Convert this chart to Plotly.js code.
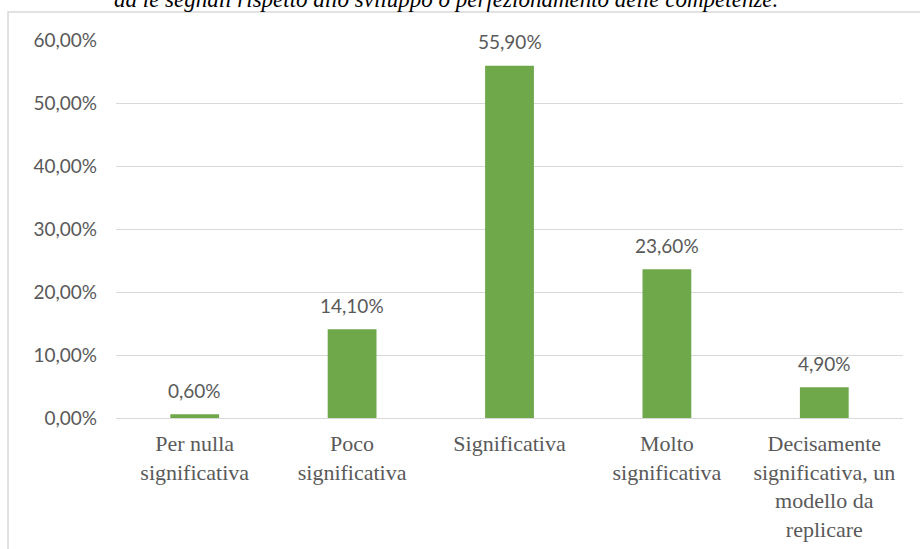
<!DOCTYPE html>
<html>
<head>
<meta charset="utf-8">
<script src="https://cdn.plot.ly/plotly-3.0.1.min.js"></script>
<style>html,body{margin:0;padding:0;background:#fff;}#chart{width:920px;height:549px;}</style>
</head>
<body>
<div id="chart"></div>
<script>
var categories = [
  "Per nulla<br>significativa",
  "Poco<br>significativa",
  "Significativa",
  "Molto<br>significativa",
  "Decisamente<br>significativa, un<br>modello da<br>replicare"
];
var values = [0.6, 14.1, 55.9, 23.6, 4.9];
var tickValues = [0, 10, 20, 30, 40, 50, 60];
var tickLabels = ["0,00%", "10,00%", "20,00%", "30,00%", "40,00%", "50,00%", "60,00%"];
var titleText = "ad le segnali rispetto allo sviluppo o perfezionamento delle competenze.";

function fmt(v) { return v.toFixed(2).replace('.', ',') + '%'; }

var trace = {
  type: 'bar',
  x: categories,
  y: values,
  marker: { color: '#6fa84b' },
  hoverinfo: 'none'
};

var annotations = values.map(function (v, i) {
  return {
    x: categories[i], y: v, xref: 'x', yref: 'y',
    text: fmt(v), showarrow: false,
    yanchor: 'middle', yshift: 24,
    font: { family: 'Lato, sans-serif', size: 19, color: '#595959' }
  };
});
annotations.push({
  x: 0.419, y: 1.108, xref: 'paper', yref: 'paper',
  text: '<i>' + titleText + '</i>', showarrow: false,
  xanchor: 'center', yanchor: 'middle',
  font: { family: 'Liberation Serif, serif', size: 23, color: '#000' }
});

var layout = {
  width: 920, height: 549,
  margin: { l: 116, r: 17, t: 39.7, b: 131.3 },
  paper_bgcolor: '#fff', plot_bgcolor: '#fff',
  showlegend: false,
  bargap: 0.69,
  xaxis: {
    showgrid: false, showline: false, zeroline: false, ticks: '',
    tickfont: { family: 'Liberation Serif, serif', size: 22, color: '#595959' },
    ticklabelstandoff: 10,
    fixedrange: true
  },
  yaxis: {
    range: [0, 60],
    tickvals: tickValues, ticktext: tickLabels,
    showgrid: true, gridcolor: '#d9d9d9', gridwidth: 1,
    zeroline: true, zerolinecolor: '#d9d9d9', zerolinewidth: 1,
    showline: false, ticks: '',
    ticklabelstandoff: 18,
    tickfont: { family: 'Lato, sans-serif', size: 19, color: '#595959' },
    fixedrange: true
  },
  annotations: annotations,
  shapes: [{
    type: 'rect', xref: 'paper', yref: 'paper',
    x0: -0.1372, x1: 1.1, y0: -0.5, y1: 1.074,
    line: { color: '#d9d9d9', width: 1.5 }, fillcolor: 'rgba(0,0,0,0)',
    layer: 'below'
  }]
};

Plotly.newPlot('chart', [trace], layout, { displayModeBar: false, staticPlot: true });
</script>
</body>
</html>
